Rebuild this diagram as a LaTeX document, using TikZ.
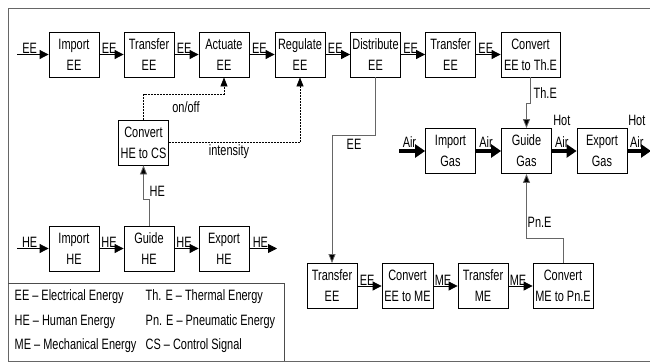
\documentclass[tikz,border=0pt]{standalone}
\usepackage{fontspec}
\setmainfont{Liberation Sans}[FakeStretch=0.73]
\usetikzlibrary{arrows.meta}
\begin{document}
\begin{tikzpicture}[x=1pt,y=-1pt,
  fbox/.style={draw=black, line width=0.8pt, minimum width=50pt, minimum height=45pt, inner sep=0pt, align=center, font=\fontsize{15}{21}\selectfont},
  lbl/.style={inner sep=0.5pt, font=\fontsize{15}{18}\selectfont},
  flow/.style={line width=0.8pt, -{Triangle[length=9pt,width=9pt]}},
  thick flow/.style={line width=3.5pt, -{Triangle[length=10pt,width=13pt]}},
  conn/.style={draw=black!60, line width=0.8pt, -{Triangle[length=9pt,width=7pt,fill=black]}},
  ctrl/.style={line width=0.8pt, dash pattern=on 2pt off 1pt, -{Triangle[length=9pt,width=7pt]}}]
\useasboundingbox (0,0) rectangle (650,362);
\draw[black!60, line width=1pt] (8,8) -- (660,8);
\draw[black!60, line width=1pt] (8,8) -- (8,361) -- (660,361);
% row 1
\node[fbox] (impEE) at (74,54.5) {Import\\EE};
\node[fbox] (trEEa) at (149,54.5) {Transfer\\EE};
\node[fbox] (actEE) at (224,54.5) {Actuate\\EE};
\node[fbox] (regEE) at (300,54.5) {Regulate\\EE};
\node[fbox] (distEE) at (375.5,54.5) {Distribute\\EE};
\node[fbox] (trEEb) at (450.5,54.5) {Transfer\\EE};
\node[fbox, minimum width=59pt] (convTh) at (530.5,54.5) {Convert\\EE to Th.E};
% gas row
\node[fbox] (impGas) at (450.5,151) {Import\\Gas};
\node[fbox] (guideGas) at (526.5,151) {Guide\\Gas};
\node[fbox] (expGas) at (602,151) {Export\\Gas};
% row 3
\node[fbox] (trEEc) at (332,286) {Transfer\\EE};
\node[fbox, minimum width=51pt] (convME) at (407.5,286) {Convert\\EE to ME};
\node[fbox] (trME) at (483,286) {Transfer\\ME};
\node[fbox, minimum width=60pt] (convPn) at (563,286) {Convert\\ME to Pn.E};
% HE row
\node[fbox] (impHE) at (74,248.5) {Import\\HE};
\node[fbox] (guideHE) at (149,248.5) {Guide\\HE};
\node[fbox] (expHE) at (224,248.5) {Export\\HE};
\node[fbox] (convCS) at (143.5,142.5) {Convert\\HE to CS};
% free ends
\coordinate (inEE) at (17,54.5);
\coordinate (inHE) at (17,248.5);
\coordinate (outHE) at (277,248.5);
\coordinate (inAir) at (399,151);
\coordinate (outAir) at (651,151);
% row 1 flows
\draw[flow] (inEE) -- node[lbl, pos=0.4, anchor=south] {EE} (impEE);
\draw[flow] (impEE) -- node[lbl, pos=0.4, anchor=south] {EE} (trEEa);
\draw[flow] (trEEa) -- node[lbl, pos=0.4, anchor=south] {EE} (actEE);
\draw[flow] (actEE) -- node[lbl, pos=0.4, anchor=south] {EE} (regEE);
\draw[flow] (regEE) -- node[lbl, pos=0.4, anchor=south] {EE} (distEE);
\draw[flow] (distEE) -- node[lbl, pos=0.4, anchor=south] {EE} (trEEb);
\draw[flow] (trEEb) -- node[lbl, pos=0.4, anchor=south] {EE} (convTh);
% HE flows
\draw[flow] (inHE) -- node[lbl, pos=0.4, anchor=south] {HE} (impHE);
\draw[flow] (impHE) -- node[lbl, pos=0.4, anchor=south] {HE} (guideHE);
\draw[flow] (guideHE) -- node[lbl, pos=0.4, anchor=south] {HE} (expHE);
\draw[flow] (expHE) -- node[lbl, pos=0.4, anchor=south] {HE} (outHE);
% row 3 flows
\draw[flow] (trEEc) -- node[lbl, pos=0.4, anchor=south] {EE} (convME);
\draw[flow] (convME) -- node[lbl, pos=0.4, anchor=south] {ME} (trME);
\draw[flow] (trME) -- node[lbl, pos=0.4, anchor=south] {ME} (convPn);
% gas flows
\draw[thick flow] (inAir) -- node[lbl, pos=0.4, anchor=south, yshift=1pt] {Air} (impGas);
\draw[thick flow] (impGas) -- node[lbl, pos=0.4, anchor=south, yshift=1pt] {Air} (guideGas);
\draw[thick flow] (guideGas) -- node[lbl, pos=0.4, anchor=south, yshift=1pt, align=center, font=\fontsize{15}{22}\selectfont] {Hot\\Air} (expGas);
\draw[thick flow] (expGas) -- node[lbl, pos=0.4, anchor=south, yshift=1pt, align=center, font=\fontsize{15}{22}\selectfont] {Hot\\Air} (outAir);
% vertical connectors
\draw[conn] (convTh.south) -- (530.5,103) -- (526.5,103) -- (guideGas.north);
\node[lbl, anchor=west] (lTh) at (533,93) {Th.E};
\draw[conn] (convPn.north) -- (563,238) -- (526.5,238) -- (guideGas.south);
\node[lbl, anchor=west] (lPn) at (527,222) {Pn.E};
\draw[conn] (distEE.south) -- (375.5,135) -- (332,135) -- (trEEc.north);
\node[lbl] (lDist) at (354,144) {EE};
\draw[conn] (guideHE.north) -- (149,199) -- (143.5,199) -- (convCS.south);
\node[lbl, anchor=west] (lHE) at (149,191) {HE};
% control signals
\draw[ctrl] (convCS.north) -- (143.5,94) -- (224,94) -- (actEE.south);
\node[lbl] (lOn) at (186,107) {on/off};
\draw[ctrl] (convCS.east) -- (300,142.5) -- (regEE.south);
\node[lbl] (lInt) at (229,152) {intensity};
% legend
\draw[black!70, line width=0.8pt] (8,283) -- (284,283) -- (284,361);
\node[lbl, anchor=north west, align=left, font=\fontsize{15}{24.5}\selectfont] (legL) at (14,289) {EE -- Electrical Energy\\HE -- Human Energy\\ME -- Mechanical Energy};
\node[lbl, anchor=north west, align=left, font=\fontsize{15}{24.5}\selectfont] (legR) at (145,289) {Th. E -- Thermal Energy\\Pn. E -- Pneumatic Energy\\CS -- Control Signal};
\end{tikzpicture}
\end{document}
